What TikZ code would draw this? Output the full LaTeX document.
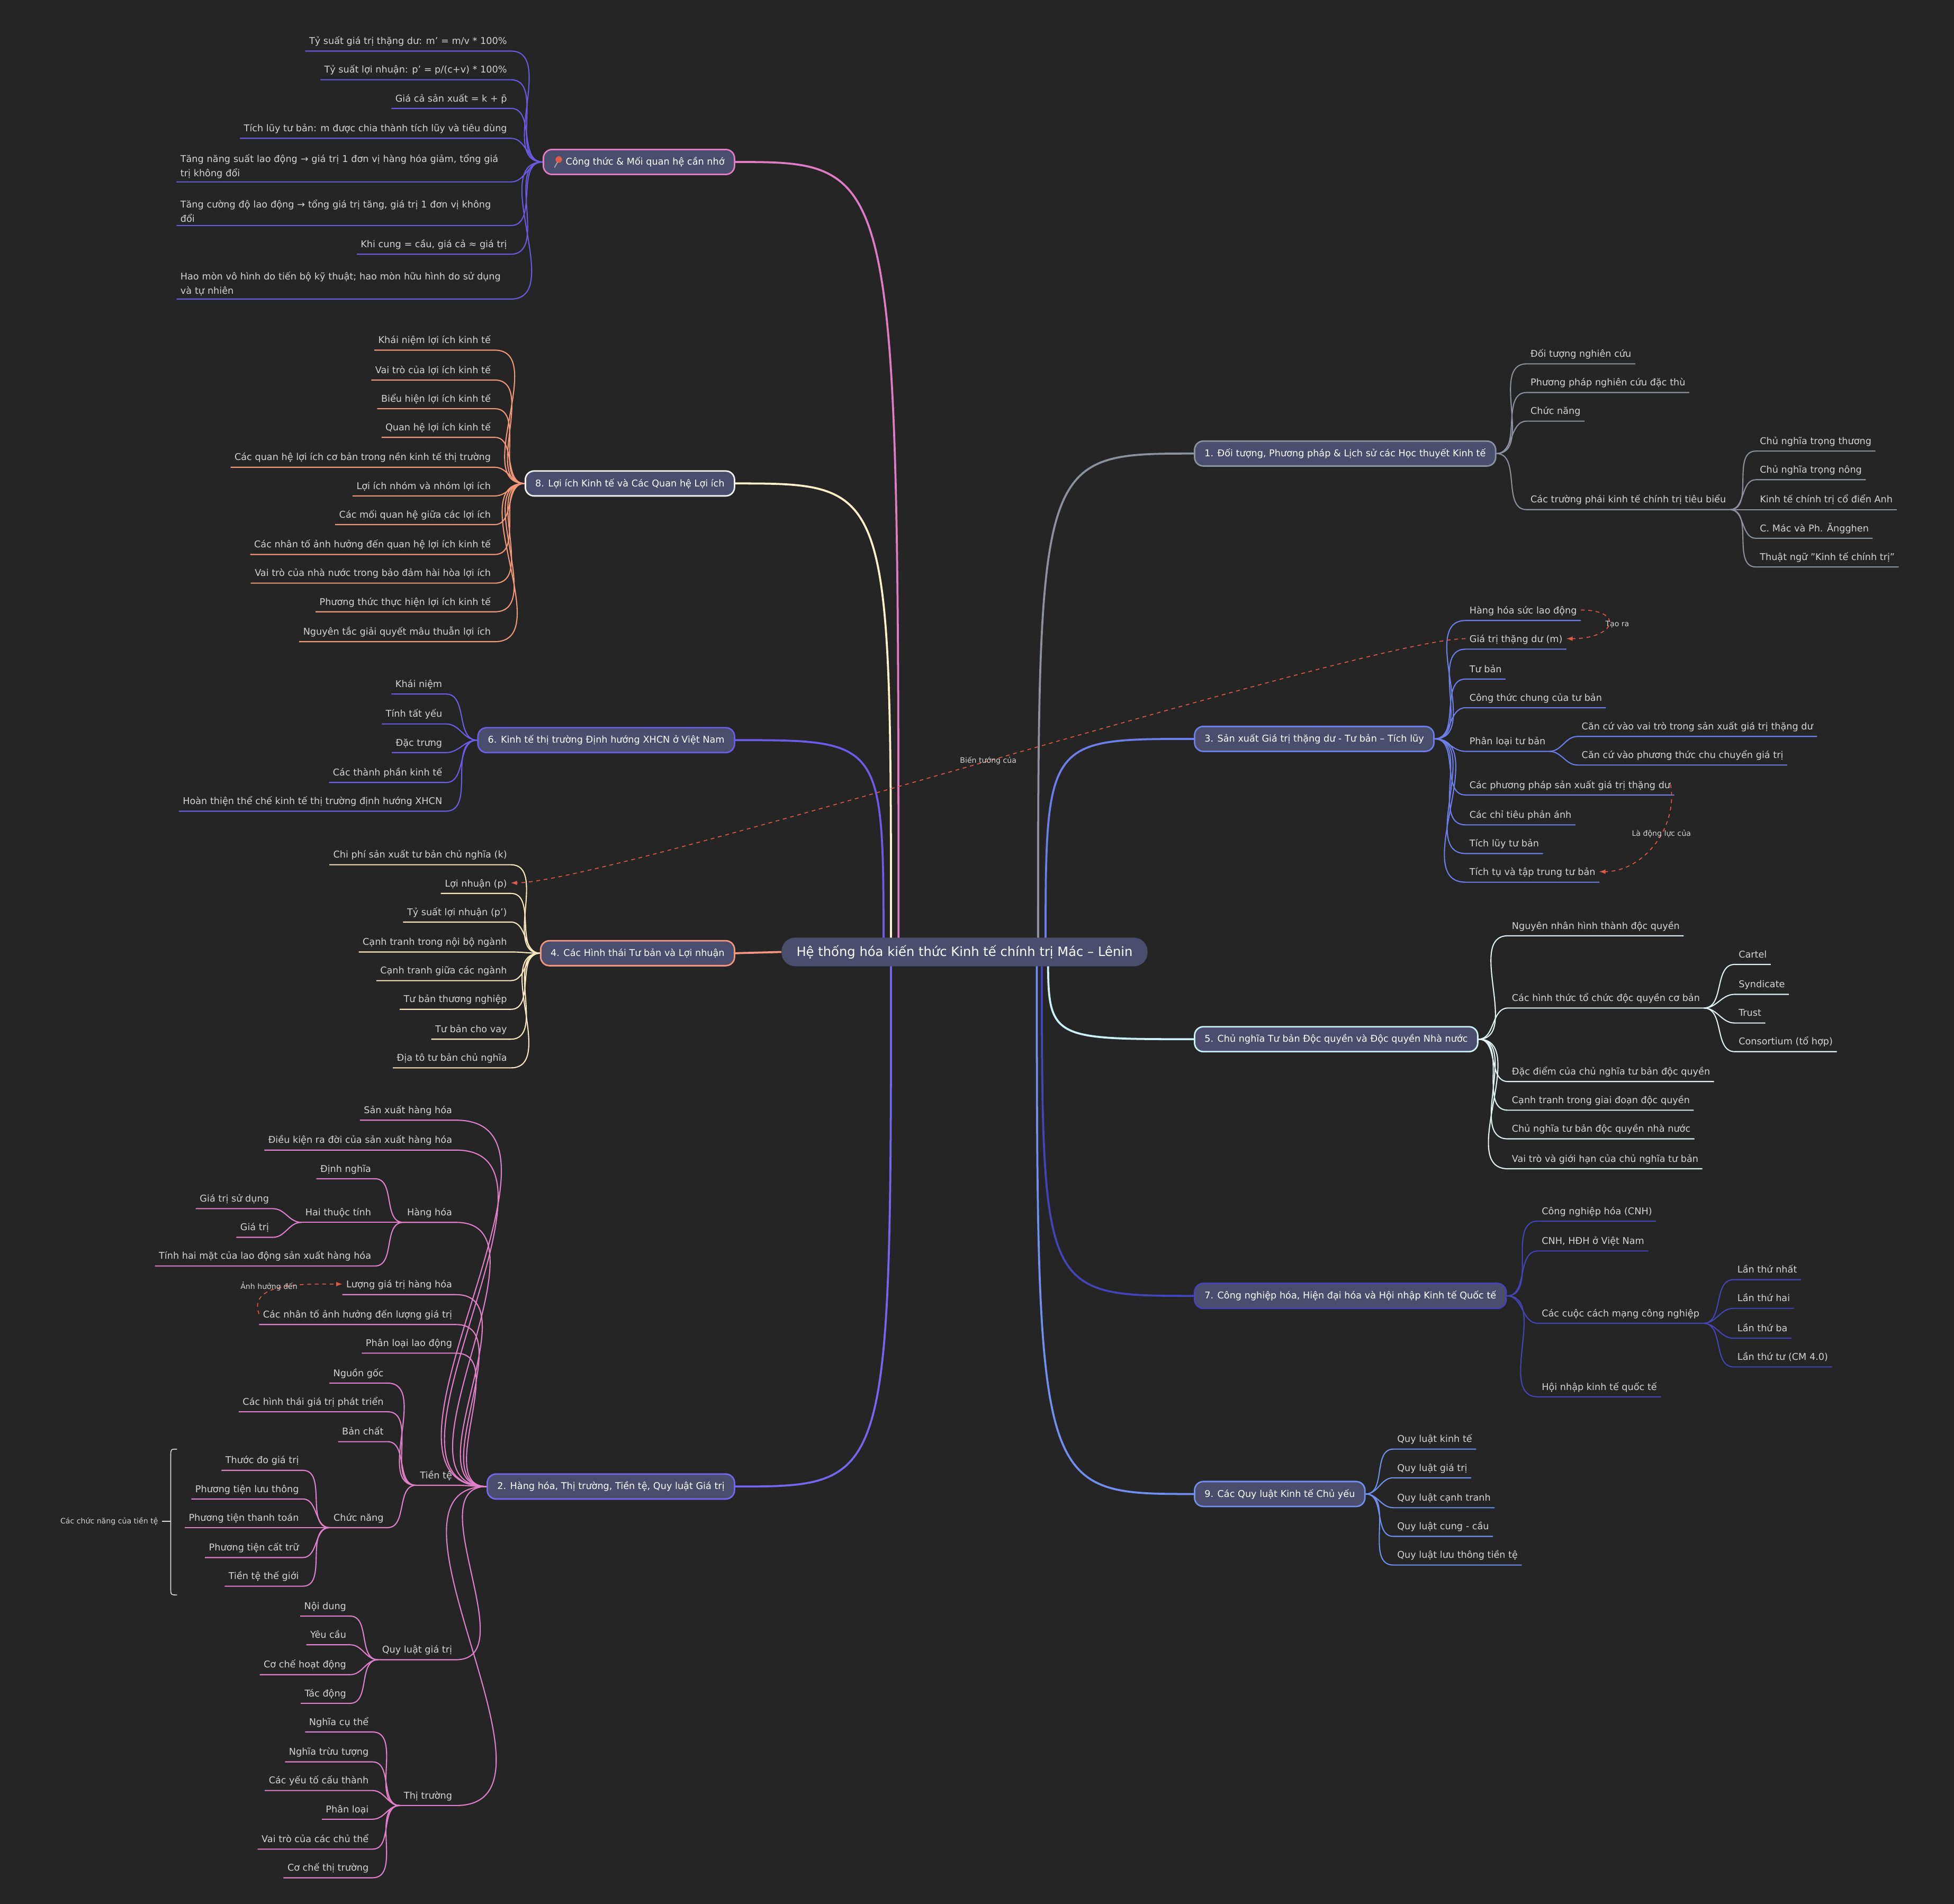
\documentclass[tikz,border=0pt]{standalone}
\usepackage{fontspec}
\setmainfont{DejaVu Sans}
\begin{document}
\definecolor{bg}{HTML}{252525}
\definecolor{slate}{HTML}{4A4D6B}
\definecolor{txt}{HTML}{D4D4D4}
\definecolor{cG}{HTML}{8C919E}
\definecolor{cB3}{HTML}{6C7EE8}
\definecolor{cC5}{HTML}{C9F1F7}
\definecolor{cL5}{HTML}{E2F2F4}
\definecolor{cD7}{HTML}{4444B8}
\definecolor{cB9}{HTML}{7090F0}
\definecolor{cPk}{HTML}{E07CC4}
\definecolor{cPu}{HTML}{6A5AE0}
\definecolor{cY}{HTML}{FFF2C8}
\definecolor{cOr}{HTML}{F09878}
\definecolor{cV}{HTML}{6C5CE7}
\definecolor{cS}{HTML}{F4957E}
\definecolor{cCr}{HTML}{FAE8C0}
\definecolor{cM}{HTML}{7466EE}
\definecolor{cPl}{HTML}{E080C8}
\definecolor{cRd}{HTML}{E05A4A}
\begin{tikzpicture}[x=1pt,y=-1pt,
  leaf/.style={inner xsep=3pt,inner ysep=2.5pt,text=txt,font=\fontsize{7.5}{9}\selectfont,text height=1.6ex,text depth=0.5ex},
  mleaf/.style={inner xsep=3pt,inner ysep=2.5pt,text=txt,font=\fontsize{7.5}{11.5}\selectfont,text width=262pt,align=left},
  ledge/.style={line width=0.9pt},
  medge/.style={line width=1.6pt},
  br/.style={rounded corners=7pt,fill=slate,line width=1.2pt,inner xsep=8pt,minimum height=20pt,text=white,font=\fontsize{7.5}{9}\selectfont},
  rel/.style={cRd,dashed,line width=0.7pt,-latex},
  rlab/.style={text=txt,font=\fontsize{6}{7}\selectfont,inner sep=1pt}]
\newcommand\rleaf[6]{\node[leaf,anchor=south west] (#1) at (#3,{#4+8}) {#5};
  \draw[ledge,#6] (#2) to[out=0,in=180] (#1.south west) -- (#1.south east);}
\newcommand\lleaf[6]{\node[leaf,anchor=south east] (#1) at (#3,{#4+8}) {#5};
  \draw[ledge,#6] (#2) to[out=180,in=0] (#1.south east) -- (#1.south west);}
\newcommand\lleafm[6]{\node[mleaf,anchor=south east] (#1) at (#3,{#4}) {#5};
  \draw[ledge,#6] (#2) to[out=180,in=0] (#1.south east) -- (#1.south west);}

\fill[bg] (0,0) rectangle (1568,1528);
\useasboundingbox (0,0) rectangle (1568,1528);

% branch nodes
\node[br,draw=cG,anchor=west] (B1) at (958,364) {1. Đối tượng, Phương pháp \& Lịch sử các Học thuyết Kinh tế};
\node[br,draw=cB3,anchor=west] (B3) at (958,593) {3. Sản xuất Giá trị thặng dư - Tư bản – Tích lũy};
\node[br,draw=cC5,anchor=west] (B5) at (958,834) {5. Chủ nghĩa Tư bản Độc quyền và Độc quyền Nhà nước};
\node[br,draw=cD7,anchor=west] (B7) at (958,1040) {7. Công nghiệp hóa, Hiện đại hóa và Hội nhập Kinh tế Quốc tế};
\node[br,draw=cB9,anchor=west] (B9) at (958,1199) {9. Các Quy luật Kinh tế Chủ yếu};
\node[br,draw=cPk,anchor=east] (BF) at (590,130) {\hspace*{10pt}Công thức \& Mối quan hệ cần nhớ};
\node[br,draw=white!90!gray,anchor=east] (B8) at (590,388) {8. Lợi ích Kinh tế và Các Quan hệ Lợi ích};
\node[br,draw=cV,anchor=east] (B6) at (590,594) {6. Kinh tế thị trường Định hướng XHCN ở Việt Nam};
\node[br,draw=cS,anchor=east] (B4) at (590,765) {4. Các Hình thái Tư bản và Lợi nhuận};
\node[br,draw=cM,anchor=east] (B2) at (590,1193) {2. Hàng hóa, Thị trường, Tiền tệ, Quy luật Giá trị};
% pin
\fill[cRd] ([xshift=13pt,yshift=2pt]BF.west) circle (2.6pt);
\draw[gray!70,line width=0.8pt] ([xshift=12pt,yshift=0pt]BF.west) -- ([xshift=9.5pt,yshift=-4.5pt]BF.west);

% main edges
\draw[medge,cG] (833,764) .. controls (833,364) and (833,364) .. (B1.west);
\draw[medge,cB3] (839,764) .. controls (839,593) and (839,593) .. (B3.west);
\draw[medge,cC5] (841,764) .. controls (841,834) and (841,834) .. (B5.west);
\draw[medge,cD7] (836,764) .. controls (836,1040) and (836,1040) .. (B7.west);
\draw[medge,cB9] (832,764) .. controls (832,1199) and (832,1199) .. (B9.west);
\draw[medge,cPk] (721,764) .. controls (721,130) and (721,130) .. (BF.east);
\draw[medge,cY] (715,764) .. controls (715,388) and (715,388) .. (B8.east);
\draw[medge,cV] (709,764) .. controls (709,594) and (709,594) .. (B6.east);
\draw[medge,cM] (715,764) .. controls (715,1193) and (715,1193) .. (B2.east);

% root
\node[rounded corners=11pt,fill=slate,minimum height=23pt,inner xsep=12pt,text=white,font=\fontsize{10.3}{12}\selectfont] (R) at (774,764) {Hệ thống hóa kiến thức Kinh tế chính trị Mác – Lênin};
\draw[medge,cS] (R.west) -- (B4.east);

% branch 1
\rleaf{a1}{B1.east}{1225}{284}{Đối tượng nghiên cứu}{cG}
\rleaf{a2}{B1.east}{1225}{307}{Phương pháp nghiên cứu đặc thù}{cG}
\rleaf{a3}{B1.east}{1225}{330}{Chức năng}{cG}
\rleaf{a4}{B1.east}{1225}{401}{Các trường phái kinh tế chính trị tiêu biểu}{cG}
\rleaf{a41}{a4.south east}{1409}{354}{Chủ nghĩa trọng thương}{cG}
\rleaf{a42}{a4.south east}{1409}{377}{Chủ nghĩa trọng nông}{cG}
\rleaf{a43}{a4.south east}{1409}{401}{Kinh tế chính trị cổ điển Anh}{cG}
\rleaf{a44}{a4.south east}{1409}{424}{C. Mác và Ph. Ăngghen}{cG}
\rleaf{a45}{a4.south east}{1409}{447}{Thuật ngữ "Kinh tế chính trị"}{cG}

% branch 3
\rleaf{c1}{B3.east}{1176}{490}{Hàng hóa sức lao động}{cB3}
\rleaf{c2}{B3.east}{1176}{513}{Giá trị thặng dư (m)}{cB3}
\rleaf{c3}{B3.east}{1176}{537}{Tư bản}{cB3}
\rleaf{c4}{B3.east}{1176}{560}{Công thức chung của tư bản}{cB3}
\rleaf{c5}{B3.east}{1176}{595}{Phân loại tư bản}{cB3}
\rleaf{c51}{c5.south east}{1266}{583}{Căn cứ vào vai trò trong sản xuất giá trị thặng dư}{cB3}
\rleaf{c52}{c5.south east}{1266}{606}{Căn cứ vào phương thức chu chuyển giá trị}{cB3}
\rleaf{c6}{B3.east}{1176}{630}{Các phương pháp sản xuất giá trị thặng dư}{cB3}
\rleaf{c7}{B3.east}{1176}{654}{Các chỉ tiêu phản ánh}{cB3}
\rleaf{c8}{B3.east}{1176}{677}{Tích lũy tư bản}{cB3}
\rleaf{c9}{B3.east}{1176}{700}{Tích tụ và tập trung tư bản}{cB3}

% branch 5
\rleaf{e1}{B5.east}{1210}{743}{Nguyên nhân hình thành độc quyền}{cL5}
\rleaf{e2}{B5.east}{1210}{801}{Các hình thức tổ chức độc quyền cơ bản}{cL5}
\rleaf{e21}{e2.south east}{1392}{766}{Cartel}{cL5}
\rleaf{e22}{e2.south east}{1392}{790}{Syndicate}{cL5}
\rleaf{e23}{e2.south east}{1392}{813}{Trust}{cL5}
\rleaf{e24}{e2.south east}{1392}{836}{Consortium (tổ hợp)}{cL5}
\rleaf{e3}{B5.east}{1210}{860}{Đặc điểm của chủ nghĩa tư bản độc quyền}{cL5}
\rleaf{e4}{B5.east}{1210}{883}{Cạnh tranh trong giai đoạn độc quyền}{cL5}
\rleaf{e5}{B5.east}{1210}{906}{Chủ nghĩa tư bản độc quyền nhà nước}{cL5}
\rleaf{e6}{B5.east}{1210}{930}{Vai trò và giới hạn của chủ nghĩa tư bản}{cL5}

% branch 7
\rleaf{g1}{B7.east}{1234}{972}{Công nghiệp hóa (CNH)}{cD7}
\rleaf{g2}{B7.east}{1234}{996}{CNH, HĐH ở Việt Nam}{cD7}
\rleaf{g3}{B7.east}{1234}{1054}{Các cuộc cách mạng công nghiệp}{cD7}
\rleaf{g31}{g3.south east}{1391}{1019}{Lần thứ nhất}{cD7}
\rleaf{g32}{g3.south east}{1391}{1042}{Lần thứ hai}{cD7}
\rleaf{g33}{g3.south east}{1391}{1066}{Lần thứ ba}{cD7}
\rleaf{g34}{g3.south east}{1391}{1089}{Lần thứ tư (CM 4.0)}{cD7}
\rleaf{g4}{B7.east}{1234}{1113}{Hội nhập kinh tế quốc tế}{cD7}

% branch 9
\rleaf{i1}{B9.east}{1118}{1155}{Quy luật kinh tế}{cB9}
\rleaf{i2}{B9.east}{1118}{1178}{Quy luật giá trị}{cB9}
\rleaf{i3}{B9.east}{1118}{1202}{Quy luật cạnh tranh}{cB9}
\rleaf{i4}{B9.east}{1118}{1225}{Quy luật cung - cầu}{cB9}
\rleaf{i5}{B9.east}{1118}{1248}{Quy luật lưu thông tiền tệ}{cB9}

% Cong thuc
\lleaf{f1}{BF.west}{410}{33}{Tỷ suất giá trị thặng dư: m' = m/v * 100\%}{cPu}
\lleaf{f2}{BF.west}{410}{56}{Tỷ suất lợi nhuận: p' = p/(c+v) * 100\%}{cPu}
\lleaf{f3}{BF.west}{410}{79}{Giá cả sản xuất = k + p̄}{cPu}
\lleaf{f4}{BF.west}{410}{103}{Tích lũy tư bản: m được chia thành tích lũy và tiêu dùng}{cPu}
\lleafm{f5}{BF.west}{410}{146}{Tăng năng suất lao động → giá trị 1 đơn vị hàng hóa giảm, tổng giá trị không đổi}{cPu}
\lleafm{f6}{BF.west}{410}{181}{Tăng cường độ lao động → tổng giá trị tăng, giá trị 1 đơn vị không\\đổi}{cPu}
\lleaf{f7}{BF.west}{410}{196}{Khi cung = cầu, giá cả ≈ giá trị}{cPu}
\lleafm{f8}{BF.west}{410}{240}{Hao mòn vô hình do tiến bộ kỹ thuật; hao mòn hữu hình do sử dụng và tự nhiên}{cPu}

% branch 8
\lleaf{h1}{B8.west}{397}{273}{Khái niệm lợi ích kinh tế}{cOr}
\lleaf{h2}{B8.west}{397}{297}{Vai trò của lợi ích kinh tế}{cOr}
\lleaf{h3}{B8.west}{397}{320}{Biểu hiện lợi ích kinh tế}{cOr}
\lleaf{h4}{B8.west}{397}{343}{Quan hệ lợi ích kinh tế}{cOr}
\lleaf{h5}{B8.west}{397}{367}{Các quan hệ lợi ích cơ bản trong nền kinh tế thị trường}{cOr}
\lleaf{h6}{B8.west}{397}{390}{Lợi ích nhóm và nhóm lợi ích}{cOr}
\lleaf{h7}{B8.west}{397}{413}{Các mối quan hệ giữa các lợi ích}{cOr}
\lleaf{h8}{B8.west}{397}{437}{Các nhân tố ảnh hưởng đến quan hệ lợi ích kinh tế}{cOr}
\lleaf{h9}{B8.west}{397}{460}{Vai trò của nhà nước trong bảo đảm hài hòa lợi ích}{cOr}
\lleaf{h10}{B8.west}{397}{483}{Phương thức thực hiện lợi ích kinh tế}{cOr}
\lleaf{h11}{B8.west}{397}{507}{Nguyên tắc giải quyết mâu thuẫn lợi ích}{cOr}

% branch 6
\lleaf{k1}{B6.west}{358}{549}{Khái niệm}{cV}
\lleaf{k2}{B6.west}{358}{573}{Tính tất yếu}{cV}
\lleaf{k3}{B6.west}{358}{596}{Đặc trưng}{cV}
\lleaf{k4}{B6.west}{358}{620}{Các thành phần kinh tế}{cV}
\lleaf{k5}{B6.west}{358}{643}{Hoàn thiện thể chế kinh tế thị trường định hướng XHCN}{cV}

% branch 4
\lleaf{m1}{B4.west}{410}{686}{Chi phí sản xuất tư bản chủ nghĩa (k)}{cCr}
\lleaf{m2}{B4.west}{410}{709}{Lợi nhuận (p)}{cCr}
\lleaf{m3}{B4.west}{410}{732}{Tỷ suất lợi nhuận (p')}{cCr}
\lleaf{m4}{B4.west}{410}{756}{Cạnh tranh trong nội bộ ngành}{cCr}
\lleaf{m5}{B4.west}{410}{779}{Cạnh tranh giữa các ngành}{cCr}
\lleaf{m6}{B4.west}{410}{802}{Tư bản thương nghiệp}{cCr}
\lleaf{m7}{B4.west}{410}{826}{Tư bản cho vay}{cCr}
\lleaf{m8}{B4.west}{410}{849}{Địa tô tư bản chủ nghĩa}{cCr}

% branch 2
\lleaf{n1}{B2.west}{366}{891}{Sản xuất hàng hóa}{cPl}
\lleaf{n2}{B2.west}{366}{915}{Điều kiện ra đời của sản xuất hàng hóa}{cPl}
\lleaf{n3}{B2.west}{366}{973}{Hàng hóa}{cPl}
\lleaf{n31}{n3.south west}{301}{938}{Định nghĩa}{cPl}
\lleaf{n32}{n3.south west}{301}{973}{Hai thuộc tính}{cPl}
\lleaf{n321}{n32.south west}{219}{962}{Giá trị sử dụng}{cPl}
\lleaf{n322}{n32.south west}{219}{985}{Giá trị}{cPl}
\lleaf{n33}{n3.south west}{301}{1008}{Tính hai mặt của lao động sản xuất hàng hóa}{cPl}
\lleaf{n4}{B2.west}{366}{1031}{Lượng giá trị hàng hóa}{cPl}
\lleaf{n5}{B2.west}{366}{1055}{Các nhân tố ảnh hưởng đến lượng giá trị}{cPl}
\lleaf{n6}{B2.west}{366}{1078}{Phân loại lao động}{cPl}
\lleaf{n7}{B2.west}{366}{1184}{Tiền tệ}{cPl}
\lleaf{n71}{n7.south west}{311}{1102}{Nguồn gốc}{cPl}
\lleaf{n72}{n7.south west}{311}{1125}{Các hình thái giá trị phát triển}{cPl}
\lleaf{n73}{n7.south west}{311}{1149}{Bản chất}{cPl}
\lleaf{n74}{n7.south west}{311}{1218}{Chức năng}{cPl}
\lleaf{n741}{n74.south west}{243}{1172}{Thước đo giá trị}{cPl}
\lleaf{n742}{n74.south west}{243}{1195}{Phương tiện lưu thông}{cPl}
\lleaf{n743}{n74.south west}{243}{1218}{Phương tiện thanh toán}{cPl}
\lleaf{n744}{n74.south west}{243}{1242}{Phương tiện cất trữ}{cPl}
\lleaf{n745}{n74.south west}{243}{1265}{Tiền tệ thế giới}{cPl}
\lleaf{n8}{B2.west}{366}{1324}{Quy luật giá trị}{cPl}
\lleaf{n81}{n8.south west}{281}{1289}{Nội dung}{cPl}
\lleaf{n82}{n8.south west}{281}{1312}{Yêu cầu}{cPl}
\lleaf{n83}{n8.south west}{281}{1336}{Cơ chế hoạt động}{cPl}
\lleaf{n84}{n8.south west}{281}{1359}{Tác động}{cPl}
\lleaf{n9}{B2.west}{366}{1441}{Thị trường}{cPl}
\lleaf{n91}{n9.south west}{299}{1382}{Nghĩa cụ thể}{cPl}
\lleaf{n92}{n9.south west}{299}{1406}{Nghĩa trừu tượng}{cPl}
\lleaf{n93}{n9.south west}{299}{1429}{Các yếu tố cấu thành}{cPl}
\lleaf{n94}{n9.south west}{299}{1452}{Phân loại}{cPl}
\lleaf{n95}{n9.south west}{299}{1476}{Vai trò của các chủ thể}{cPl}
\lleaf{n96}{n9.south west}{299}{1499}{Cơ chế thị trường}{cPl}

% brace
\draw[txt!80,line width=0.7pt] (142,1163) .. controls (137,1163) .. (137,1169) -- (137,1274) .. controls (137,1280) .. (142,1280);
\node[rlab,anchor=east] (bl) at (128,1221) {Các chức năng của tiền tệ};
\draw[txt!80,line width=0.7pt] (bl.east) ++(2,0) -- (137,1221);

% relations
\draw[rel] (c1.east) .. controls +(35,0) and +(40,0) .. node[rlab,pos=0.5,right=-4pt] {Tạo ra} (c2.east);
\draw[rel] (c2.west) to[out=180,in=0,looseness=0.25] node[rlab,pos=0.5] {Biến tướng của} (m2.east);
\draw[rel] ([xshift=-3pt]c6.east) to[out=-80,in=0] node[rlab,pos=0.4] {Là động lực của} (c9.east);
\draw[rel] (n5.west) to[out=110,in=180] node[rlab,pos=0.35,above=-1pt] {Ảnh hưởng đến} (n4.west);
\end{tikzpicture}
\end{document}
